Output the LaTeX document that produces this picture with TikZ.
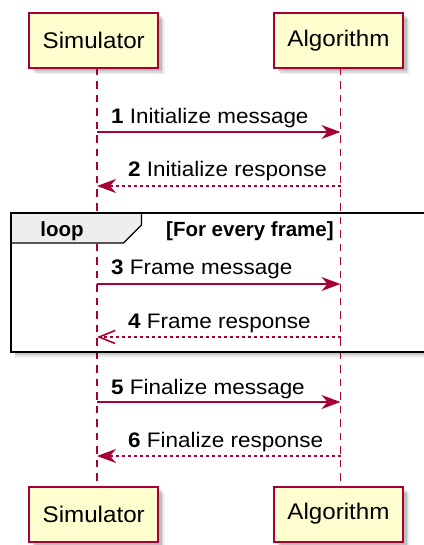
\documentclass[tikz,border=0pt]{standalone}
\usepackage{fontspec}
\setmainfont{Liberation Sans}
\newfontfamily\widesans[FakeStretch=1.07]{Liberation Sans}
\usetikzlibrary{arrows.meta,shadows}
\definecolor{umlred}{HTML}{A80036}
\definecolor{umlfill}{HTML}{FEFECE}
\definecolor{umltab}{HTML}{EEEEEE}
\begin{document}
\begin{tikzpicture}[x=1pt,y=-1pt,
  softshadow/.style={
    general shadow={shadow xshift=3.5pt,shadow yshift=-3.5pt,fill=black,opacity=.13},
    general shadow={shadow xshift=5pt,shadow yshift=-5pt,fill=black,opacity=.09},
    general shadow={shadow xshift=6.5pt,shadow yshift=-6.5pt,fill=black,opacity=.06}},
  actor/.style={draw=umlred,fill=umlfill,line width=2pt,minimum width=129pt,
    minimum height=55pt,inner sep=0pt,softshadow,
    font=\widesans\fontsize{22.6}{27}\selectfont},
  lifeline/.style={draw=umlred,line width=1.3pt,dash pattern=on 7.5pt off 6pt},
  msg/.style={inner sep=0pt,anchor=base west,font=\widesans\fontsize{21}{25}\selectfont},
  hdr/.style={inner sep=0pt,anchor=base,font=\fontsize{20.5}{25}\selectfont\bfseries},
  call/.style={draw=umlred,line width=1.6pt,
    -{Stealth[length=19pt,width=14pt,inset=6pt]}},
  reply/.style={draw=umlred,line width=1.6pt,dash pattern=on 3pt off 3pt,
    -{Stealth[length=19pt,width=14pt,inset=6pt]}},
  openreply/.style={draw=umlred,line width=1.6pt,dash pattern=on 3pt off 3pt,
    -{Straight Barb[length=16pt,width=13pt,line width=1.6pt]}},
]
\useasboundingbox (0,0) rectangle (423,545);

% participants, head and foot
\node[actor] (simT) at (93.7,40.5) {Simulator};
\node[actor] (algT) at (338.5,40.5) {Algorithm};
\node[actor] (simB) at (93.7,514) {Simulator};
\node[actor] (algB) at (338.5,514) {Algorithm};

% lifeline ends
\coordinate (simTop) at (97,68);
\coordinate (simBot) at (97,486);
\coordinate (algTop) at (340.5,68);
\coordinate (algBot) at (340.5,486);

% lifelines
\draw[lifeline] (simTop) -- (simBot);
\draw[lifeline] (algTop) -- (algBot);

% loop fragment: shadow band, frame and header tab
\foreach \d/\o in {1/.24,2/.18,3/.13,4/.08,5/.05,6/.02}
  \draw[black,opacity=\o,line width=1pt] (15,352.5+\d) -- (440,352.5+\d);
\draw[black,line width=2.6pt] (430,213) -- (11,213) -- (11,352) -- (430,352);
\coordinate (tabA) at (11,213);
\coordinate (tabB) at (141.5,213);
\coordinate (tabC) at (141.5,225);
\coordinate (tabD) at (123.5,243);
\coordinate (tabE) at (11,243);
\filldraw[fill=umltab,draw=black,line width=1.3pt]
  (tabA) -- (tabB) -- (tabC) -- (tabD) -- (tabE) -- cycle;
\draw[black,line width=2.6pt] (11,213) -- (430,213);
\draw[black,line width=2.6pt] (11,213) -- (11,352);
\node[hdr] (looplbl) at (62,236) {loop};
\node[hdr,anchor=base west] (loopcond) at (166,236) {[For every frame]};

% message anchor points on the lifelines
\foreach \n/\y in {1/132,2/186,3/284,4/337,5/402,6/456}{
  \coordinate (s\n) at (simTop |- 0,\y);
  \coordinate (a\n) at (algTop |- 0,\y);
}

% messages
\draw[call] (s1) -- (a1);
\node[msg] (m1) at (111,124) {\textbf{1} Initialize message};
\draw[reply] (a2) -- (s2);
\node[msg] (m2) at (128,177) {\textbf{2} Initialize response};
\draw[call] (s3) -- (a3);
\node[msg] (m3) at (111,274.5) {\textbf{3} Frame message};
\draw[openreply] (a4) -- (s4);
\node[msg] (m4) at (128,328) {\textbf{4} Frame response};
\draw[call] (s5) -- (a5);
\node[msg] (m5) at (111,394) {\textbf{5} Finalize message};
\draw[reply] (a6) -- (s6);
\node[msg] (m6) at (128,447) {\textbf{6} Finalize response};
\end{tikzpicture}
\end{document}
